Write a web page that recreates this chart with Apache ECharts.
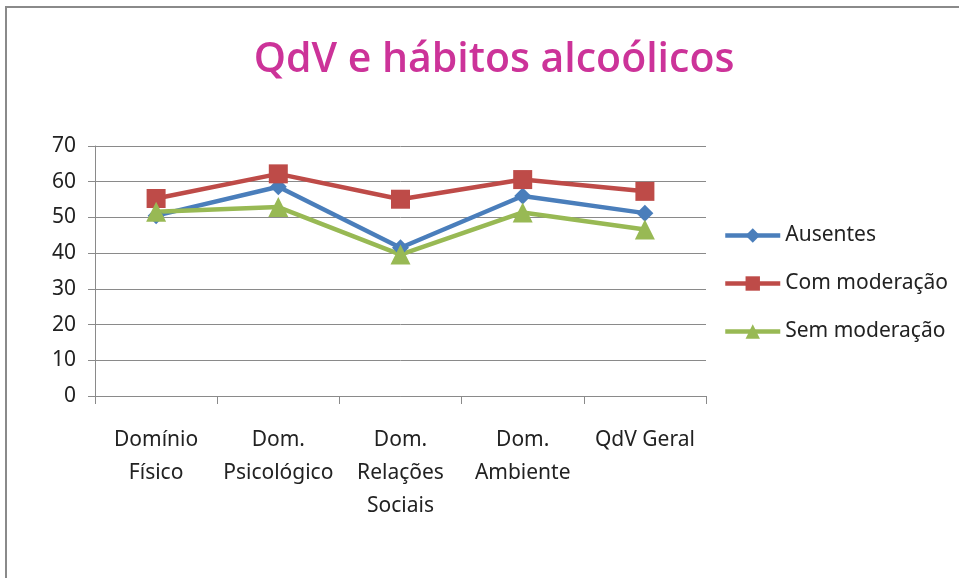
<!DOCTYPE html>
<html>
<head>
<meta charset="utf-8">
<script src="https://cdn.jsdelivr.net/npm/echarts@6/dist/echarts.min.js"></script>
<style>
  html, body { margin: 0; padding: 0; background: #fff; }
  #chart { width: 959px; height: 578px; }
</style>
</head>
<body>
<div id="chart"></div>
<script>
// dados
const categorias = ['Domínio\nFísico', 'Dom.\nPsicológico', 'Dom.\nRelações\nSociais', 'Dom.\nAmbiente', 'QdV Geral']
const ausentes = [50.5, 58.6, 41.5, 56, 51.2]
const comModeracao = [55.3, 62.2, 55.1, 60.6, 57.3]
const semModeracao = [51.6, 52.9, 39.6, 51.4, 46.6]
const ticksY = { min: 0, max: 70, interval: 10 }

const fonte = 'Noto Sans, sans-serif'

let myChart = echarts.init(document.getElementById('chart'))
let option = {
  backgroundColor: '#fff',
  animation: false,
  title: {
    text: 'QdV e hábitos alcoólicos',
    left: 489,
    textAlign: 'center',
    top: 35,
    textStyle: { color: '#cc3399', fontSize: 41, fontWeight: 600, fontFamily: 'Open Sans, sans-serif' }
  },
  graphic: [{
    type: 'rect',
    shape: { x: 6, y: 7, width: 1200, height: 1000 },
    style: { fill: 'none', stroke: '#8a8a8a', lineWidth: 2 },
    silent: true
  }],
  legend: {
    orient: 'vertical',
    left: 718,
    top: 220,
    itemGap: 27,
    itemWidth: 55,
    itemHeight: 18,
    lineStyle: { width: 4.5 },
    textStyle: { fontSize: 21, color: '#222', fontFamily: fonte },
    data: ['Ausentes', 'Com moderação', 'Sem moderação']
  },
  grid: { left: 95, right: 253, top: 146, bottom: 182 },
  xAxis: {
    type: 'category',
    data: categorias,
    boundaryGap: true,
    axisLine: { lineStyle: { color: '#8a8a8a', width: 1 } },
    axisTick: { show: true, length: 8, lineStyle: { color: '#8a8a8a' } },
    axisLabel: { margin: 28, fontSize: 21, lineHeight: 33, color: '#222', fontFamily: fonte, interval: 0, verticalAlign: 'top' }
  },
  yAxis: {
    type: 'value',
    min: ticksY.min,
    max: ticksY.max,
    interval: ticksY.interval,
    axisLine: { show: true, lineStyle: { color: '#8a8a8a', width: 1 } },
    axisTick: { show: true, length: 7, lineStyle: { color: '#8a8a8a' } },
    axisLabel: { margin: 19, fontSize: 21, color: '#222', fontFamily: fonte },
    splitLine: { lineStyle: { color: '#8a8a8a', width: 1 } }
  },
  series: [
    {
      name: 'Ausentes',
      type: 'line',
      data: ausentes,
      symbol: 'diamond',
      symbolSize: 17,
      lineStyle: { width: 4.5, color: '#4a7ebb' },
      itemStyle: { color: '#4a7ebb' }
    },
    {
      name: 'Com moderação',
      type: 'line',
      data: comModeracao,
      symbol: 'rect',
      symbolSize: 19,
      lineStyle: { width: 4.5, color: '#be4b48' },
      itemStyle: { color: '#be4b48' }
    },
    {
      name: 'Sem moderação',
      type: 'line',
      data: semModeracao,
      symbol: 'triangle',
      symbolSize: 20,
      lineStyle: { width: 4.5, color: '#98b954' },
      itemStyle: { color: '#98b954' }
    }
  ]
}
myChart.setOption(option)
</script>
</body>
</html>
